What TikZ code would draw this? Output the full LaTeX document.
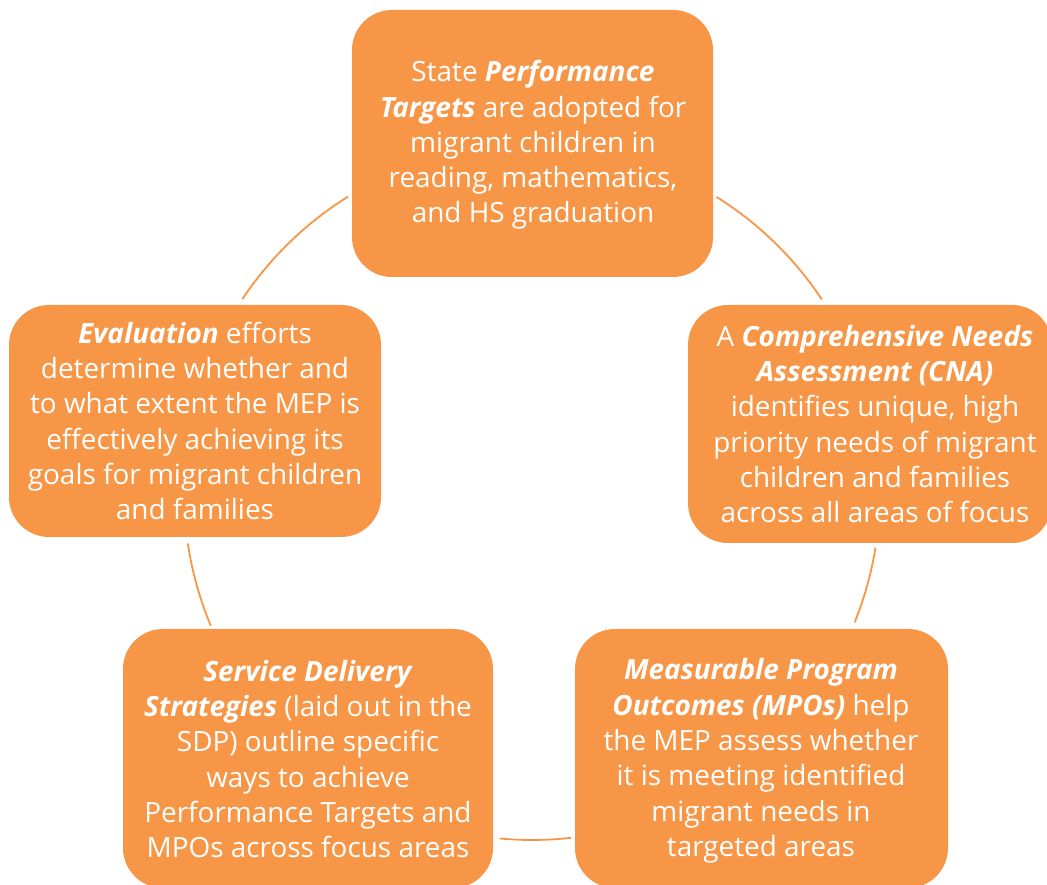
\documentclass[tikz,border=0pt]{standalone}
\usepackage{fontspec}
\setmainfont{Open Sans}
\usetikzlibrary{calc}
\definecolor{boxorange}{HTML}{F79646}
\tikzset{
  x=1pt, y=1pt,
  cyclebox/.style={rectangle, rounded corners=40pt, fill=boxorange, draw=none, inner sep=0pt},
  boxtext/.style={text=white, align=center, font=\fontsize{27.9}{35.3}\selectfont, inner sep=0pt},
  conn/.style={draw=boxorange, line width=1.8pt}
}
\newcommand{\bi}[1]{\textbf{\textit{#1}}}
\begin{document}
\begin{tikzpicture}
\useasboundingbox (0,0) rectangle (1047,884);
\clip (0,0) rectangle (1047,884);
% boxes (x from left, y from bottom)
\node[cyclebox, minimum width=361pt, minimum height=267pt] (boxT) at (532.5,740.5) {};
\node[cyclebox, minimum width=364pt, minimum height=238pt] (boxR) at (870,460) {};
\node[cyclebox, minimum width=372pt, minimum height=232pt] (boxL) at (195,463) {};
\node[cyclebox, minimum width=370pt, minimum height=259pt] (boxBL) at (308,125.5) {};
\node[cyclebox, minimum width=373pt, minimum height=259pt] (boxBR) at (761.5,125.5) {};
% texts
\node[boxtext] (tT) at (533,739) {State \bi{Performance}\\ \bi{Targets} are adopted for\\ migrant children in\\ reading, mathematics,\\ and HS graduation};
\node[boxtext] (tR) at (875,460) {A \bi{Comprehensive Needs}\\ \bi{Assessment (CNA)}\\ identifies unique, high\\ priority needs of migrant\\ children and families\\ across all areas of focus};
\node[boxtext] (tL) at (195,463) {\bi{Evaluation} efforts\\ determine whether and\\ to what extent the MEP is\\ effectively achieving its\\ goals for migrant children\\ and families};
\node[boxtext] (tBL) at (308,125) {\bi{Service Delivery}\\ \bi{Strategies} (laid out in the\\ SDP) outline specific\\ ways to achieve\\ Performance Targets and\\ MPOs across focus areas};
\node[boxtext] (tBR) at (761,123) {\bi{Measurable Program}\\ \bi{Outcomes (MPOs)} help\\ the MEP assess whether\\ it is meeting identified\\ migrant needs in\\ targeted areas};
% connecting arcs on the cycle circle
\coordinate (c) at (532,392);
\draw[conn] ([shift={(121.9:348)}]c) arc[start angle=121.9, end angle=146.3, radius=348];
\draw[conn] ([shift={(58:348)}]c) arc[start angle=58, end angle=33.6, radius=348];
\draw[conn] ([shift={(-9.2:348)}]c) arc[start angle=-9.2, end angle=-22, radius=348];
\draw[conn] ([shift={(-83.5:348)}]c) arc[start angle=-83.5, end angle=-95.3, radius=348];
\draw[conn] ([shift={(202.6:348)}]c) arc[start angle=202.6, end angle=188.5, radius=348];
\end{tikzpicture}
\end{document}
